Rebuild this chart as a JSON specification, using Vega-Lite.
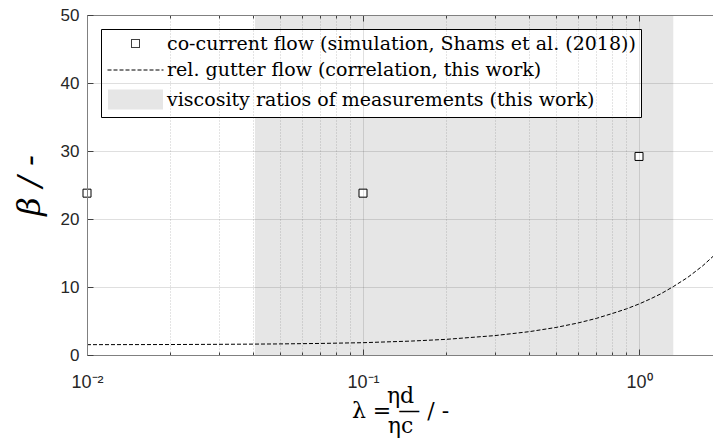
{
  "$schema": "https://vega.github.io/schema/vega-lite/v6.json",
  "width": 626,
  "height": 340,
  "autosize": {"type": "none"},
  "padding": {"left": 87, "top": 15, "right": 0, "bottom": 86},
  "background": "white",
  "config": {
    "view": {"stroke": null},
    "legend": {
      "orient": "top-left",
      "offset": 14,
      "padding": 5,
      "strokeColor": "black",
      "fillColor": "white",
      "cornerRadius": 0,
      "labelFont": "DejaVu Serif",
      "labelFontSize": 19,
      "labelColor": "black",
      "labelLimit": 0,
      "symbolSize": 100,
      "symbolStrokeWidth": 1,
      "symbolOffset": 20,
      "labelOffset": 22,
      "rowPadding": 6.5
    }
  },
  "datasets": {
    "band": [
      {"series": "viscosity ratios of measurements (this work)", "lo": 0.0406, "hi": 1.331}
    ],
    "curve": [
      {"series": "rel. gutter flow (correlation, this work)", "lambda": 0.01, "beta": 1.52},
      {"series": "rel. gutter flow (correlation, this work)", "lambda": 0.02, "beta": 1.54},
      {"series": "rel. gutter flow (correlation, this work)", "lambda": 0.03, "beta": 1.57},
      {"series": "rel. gutter flow (correlation, this work)", "lambda": 0.04, "beta": 1.6},
      {"series": "rel. gutter flow (correlation, this work)", "lambda": 0.05, "beta": 1.63},
      {"series": "rel. gutter flow (correlation, this work)", "lambda": 0.07, "beta": 1.7},
      {"series": "rel. gutter flow (correlation, this work)", "lambda": 0.1, "beta": 1.81},
      {"series": "rel. gutter flow (correlation, this work)", "lambda": 0.15, "beta": 2.05},
      {"series": "rel. gutter flow (correlation, this work)", "lambda": 0.2, "beta": 2.3},
      {"series": "rel. gutter flow (correlation, this work)", "lambda": 0.3, "beta": 2.85},
      {"series": "rel. gutter flow (correlation, this work)", "lambda": 0.4, "beta": 3.43},
      {"series": "rel. gutter flow (correlation, this work)", "lambda": 0.5, "beta": 4.05},
      {"series": "rel. gutter flow (correlation, this work)", "lambda": 0.6, "beta": 4.7},
      {"series": "rel. gutter flow (correlation, this work)", "lambda": 0.7, "beta": 5.38},
      {"series": "rel. gutter flow (correlation, this work)", "lambda": 0.8, "beta": 6.1},
      {"series": "rel. gutter flow (correlation, this work)", "lambda": 0.9, "beta": 6.78},
      {"series": "rel. gutter flow (correlation, this work)", "lambda": 1.0, "beta": 7.5},
      {"series": "rel. gutter flow (correlation, this work)", "lambda": 1.1, "beta": 8.25},
      {"series": "rel. gutter flow (correlation, this work)", "lambda": 1.2, "beta": 9.0},
      {"series": "rel. gutter flow (correlation, this work)", "lambda": 1.33, "beta": 10.05},
      {"series": "rel. gutter flow (correlation, this work)", "lambda": 1.5, "beta": 11.4},
      {"series": "rel. gutter flow (correlation, this work)", "lambda": 1.7, "beta": 13.1},
      {"series": "rel. gutter flow (correlation, this work)", "lambda": 1.854, "beta": 14.5}
    ],
    "sim": [
      {"series": "co-current flow (simulation, Shams et al. (2018))", "lambda": 0.01, "beta": 23.8},
      {"series": "co-current flow (simulation, Shams et al. (2018))", "lambda": 0.1, "beta": 23.8},
      {"series": "co-current flow (simulation, Shams et al. (2018))", "lambda": 1.0, "beta": 29.2}
    ]
  },
  "layer": [
    {
      "data": {"name": "band"},
      "mark": {"type": "rect", "strokeWidth": 0},
      "encoding": {
        "x": {
          "field": "lo",
          "type": "quantitative",
          "scale": {"type": "log", "domain": [0.01, 1.854], "nice": false},
          "axis": {
            "orient": "bottom",
            "values": [0.01, 0.02, 0.03, 0.04, 0.05, 0.06, 0.07, 0.08, 0.09, 0.1, 0.2, 0.3, 0.4, 0.5, 0.6, 0.7, 0.8, 0.9, 1],
            "labelExpr": "datum.value == 0.01 ? '10⁻²' : datum.value == 0.1 ? '10⁻¹' : datum.value == 1 ? '10⁰' : ''",
            "labelOverlap": false,
            "labelFlush": false,
            "labelFont": "Liberation Sans",
            "labelFontSize": 18,
            "labelColor": "#262626",
            "labelPadding": 24,
            "grid": true,
            "gridColor": "#262626",
            "gridOpacity": {"condition": {"test": "datum.value == 0.01 || datum.value == 0.1 || datum.value == 1", "value": 0.15}, "value": 0.25},
            "gridDash": {"condition": {"test": "datum.value == 0.01 || datum.value == 0.1 || datum.value == 1", "value": [1, 0]}, "value": [1, 2]},
            "tickSize": {"condition": {"test": "datum.value == 0.01 || datum.value == 0.1 || datum.value == 1", "value": -6}, "value": -3},
            "tickColor": "#404040",
            "domainColor": "#808080",
            "title": ["ηd", "λ =\u00a0—\u00a0/ -\u00a0\u00a0", "ηc"],
            "titleFont": "DejaVu Serif",
            "titleFontSize": 22,
            "titleFontWeight": "normal",
            "titleLineHeight": 15,
            "titleColor": "black",
            "titlePadding": -9,
            "zindex": 1
          }
        },
        "x2": {"field": "hi"},
        "fill": {
          "field": "series",
          "type": "nominal",
          "scale": {
            "domain": ["co-current flow (simulation, Shams et al. (2018))", "rel. gutter flow (correlation, this work)", "viscosity ratios of measurements (this work)"],
            "range": ["white", "transparent", "#e6e6e6"]
          },
          "legend": {"title": null}
        }
      }
    },
    {
      "data": {"name": "curve"},
      "mark": {"type": "line", "strokeWidth": 1},
      "encoding": {
        "x": {
          "field": "lambda",
          "type": "quantitative",
          "scale": {"type": "log", "domain": [0.01, 1.854], "nice": false},
          "axis": {
            "orient": "top",
            "values": [0.01, 0.02, 0.03, 0.04, 0.05, 0.06, 0.07, 0.08, 0.09, 0.1, 0.2, 0.3, 0.4, 0.5, 0.6, 0.7, 0.8, 0.9, 1],
            "labels": false,
            "grid": false,
            "tickSize": {"condition": {"test": "datum.value == 0.01 || datum.value == 0.1 || datum.value == 1", "value": -6}, "value": -3},
            "tickColor": "#404040",
            "domainColor": "#808080",
            "title": null,
            "zindex": 1
          }
        },
        "y": {
          "field": "beta",
          "type": "quantitative",
          "scale": {"domain": [0, 50], "nice": false},
          "axis": {
            "orient": "left",
            "values": [0, 10, 20, 30, 40, 50],
            "labelFont": "Liberation Sans",
            "labelFontSize": 17,
            "labelColor": "#262626",
            "labelPadding": 14,
            "labelFlush": false,
            "grid": true,
            "gridColor": "#262626",
            "gridOpacity": 0.15,
            "tickSize": -6,
            "tickColor": "#404040",
            "domainColor": "#808080",
            "title": "β / -",
            "titleFont": "DejaVu Serif",
            "titleFontStyle": "italic",
            "titleFontSize": 32,
            "titleFontWeight": "normal",
            "titleColor": "black",
            "titlePadding": 14,
            "zindex": 1
          }
        },
        "stroke": {
          "field": "series",
          "type": "nominal",
          "scale": {
            "domain": ["co-current flow (simulation, Shams et al. (2018))", "rel. gutter flow (correlation, this work)", "viscosity ratios of measurements (this work)"],
            "range": ["black", "black", "transparent"]
          },
          "legend": {"title": null}
        },
        "strokeDash": {
          "field": "series",
          "type": "nominal",
          "scale": {
            "domain": ["co-current flow (simulation, Shams et al. (2018))", "rel. gutter flow (correlation, this work)", "viscosity ratios of measurements (this work)"],
            "range": [[1, 0], [4, 2], [1, 0]]
          },
          "legend": {"title": null}
        }
      }
    },
    {
      "data": {"name": "sim"},
      "mark": {"type": "point", "size": 100, "strokeWidth": 1, "filled": true, "opacity": 1},
      "encoding": {
        "x": {
          "field": "lambda",
          "type": "quantitative",
          "scale": {"type": "log", "domain": [0.01, 1.854], "nice": false},
          "axis": null
        },
        "y": {
          "field": "beta",
          "type": "quantitative",
          "scale": {"domain": [0, 50], "nice": false},
          "axis": null
        },
        "shape": {
          "field": "series",
          "type": "nominal",
          "scale": {
            "domain": ["co-current flow (simulation, Shams et al. (2018))", "rel. gutter flow (correlation, this work)", "viscosity ratios of measurements (this work)"],
            "range": ["M-0.8,-0.8H0.8V0.8H-0.8Z", "M-5.6,0H5.6", "M-5.5,-2H5.5V2H-5.5Z"]
          },
          "legend": {"title": null}
        },
        "fill": {
          "field": "series",
          "type": "nominal",
          "scale": {
            "domain": ["co-current flow (simulation, Shams et al. (2018))", "rel. gutter flow (correlation, this work)", "viscosity ratios of measurements (this work)"],
            "range": ["white", "transparent", "#e6e6e6"]
          },
          "legend": {"title": null}
        },
        "stroke": {
          "field": "series",
          "type": "nominal",
          "scale": {
            "domain": ["co-current flow (simulation, Shams et al. (2018))", "rel. gutter flow (correlation, this work)", "viscosity ratios of measurements (this work)"],
            "range": ["black", "black", "transparent"]
          },
          "legend": {"title": null}
        }
      }
    }
  ],
  "resolve": {"axis": {"x": "independent", "y": "independent"}}
}
